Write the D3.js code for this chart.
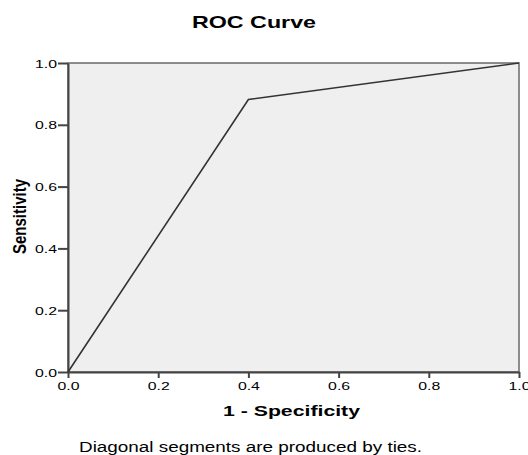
<!DOCTYPE html>
<meta charset="utf-8">
<style>
body { margin: 0; background: #fff; }
text { font-family: Arial, "Liberation Sans", sans-serif; fill: #000; }
</style>
<svg width="528" height="455"></svg>
<script src="https://cdn.jsdelivr.net/npm/d3@7"></script>
<script>

// ROC points (1 - specificity, sensitivity)
var fpr = [0, 0.4, 1];
var tpr = [0, 0.882, 1];
var tickVals = [0, 0.2, 0.4, 0.6, 0.8, 1.0];

var svg = d3.select("svg");
var plotL = 68, plotR = 519, plotT = 63, plotB = 372;

var x = d3.scaleLinear().domain([0, 1]).range([plotL, plotR]);
var y = d3.scaleLinear().domain([0, 1]).range([plotB, plotT]);

// plot background and frame
svg.append("rect")
    .attr("x", plotL).attr("y", plotT)
    .attr("width", plotR - plotL).attr("height", plotB - plotT)
    .attr("fill", "#efefef")
    .attr("stroke", "#6a6a6a")
    .attr("stroke-width", 1.5);

// x axis
var xAxis = svg.append("g")
    .attr("transform", "translate(0," + plotB + ")")
    .call(d3.axisBottom(x).tickValues(tickVals).tickSize(6).tickSizeOuter(0).tickFormat(d3.format(".1f")));
xAxis.select(".domain").attr("stroke", "#444").attr("stroke-width", 2);
xAxis.selectAll(".tick line").attr("stroke", "#444").attr("stroke-width", 2);
xAxis.selectAll(".tick text")
    .attr("y", 18).attr("dy", null)
    .attr("font-size", 10)
    .attr("textLength", 22)
    .attr("lengthAdjust", "spacingAndGlyphs")
    .attr("fill", "#333");

// y axis
var yAxis = svg.append("g")
    .attr("transform", "translate(" + plotL + ",0)")
    .call(d3.axisLeft(y).tickValues(tickVals).tickSize(10).tickSizeOuter(0).tickFormat(d3.format(".1f")));
yAxis.select(".domain").attr("stroke", "#444").attr("stroke-width", 2);
yAxis.selectAll(".tick line").attr("stroke", "#444").attr("stroke-width", 2);
yAxis.selectAll(".tick text")
    .attr("x", -11).attr("dy", "0.4em")
    .attr("font-size", 10)
    .attr("textLength", 22)
    .attr("lengthAdjust", "spacingAndGlyphs")
    .attr("fill", "#333");
svg.selectAll(".tick text").attr("font-family", "Arial, 'Liberation Sans', sans-serif");

// ROC line
var line = d3.line()
    .x(function(d, i) { return x(fpr[i]); })
    .y(function(d, i) { return y(tpr[i]); });

svg.append("path")
    .datum(fpr)
    .attr("d", line)
    .attr("fill", "none")
    .attr("stroke", "#333")
    .attr("stroke-width", 1.6);

// titles
svg.append("text")
    .attr("x", 254).attr("y", 28)
    .attr("text-anchor", "middle")
    .attr("font-size", 17).attr("font-weight", "bold")
    .attr("textLength", 124).attr("lengthAdjust", "spacingAndGlyphs")
    .text("ROC Curve");

svg.append("text")
    .attr("x", 291.5).attr("y", 416)
    .attr("text-anchor", "middle")
    .attr("font-size", 15).attr("font-weight", "bold")
    .attr("textLength", 137).attr("lengthAdjust", "spacingAndGlyphs")
    .text("1 - Specificity");

svg.append("text")
    .attr("transform", "translate(26,216.5) rotate(-90)")
    .attr("text-anchor", "middle")
    .attr("font-size", 18).attr("font-weight", "bold")
    .attr("textLength", 75).attr("lengthAdjust", "spacingAndGlyphs")
    .text("Sensitivity");

svg.append("text")
    .attr("x", 250.5).attr("y", 452)
    .attr("text-anchor", "middle")
    .attr("font-size", 14)
    .attr("textLength", 343).attr("lengthAdjust", "spacingAndGlyphs")
    .text("Diagonal segments are produced by ties.");

</script>
